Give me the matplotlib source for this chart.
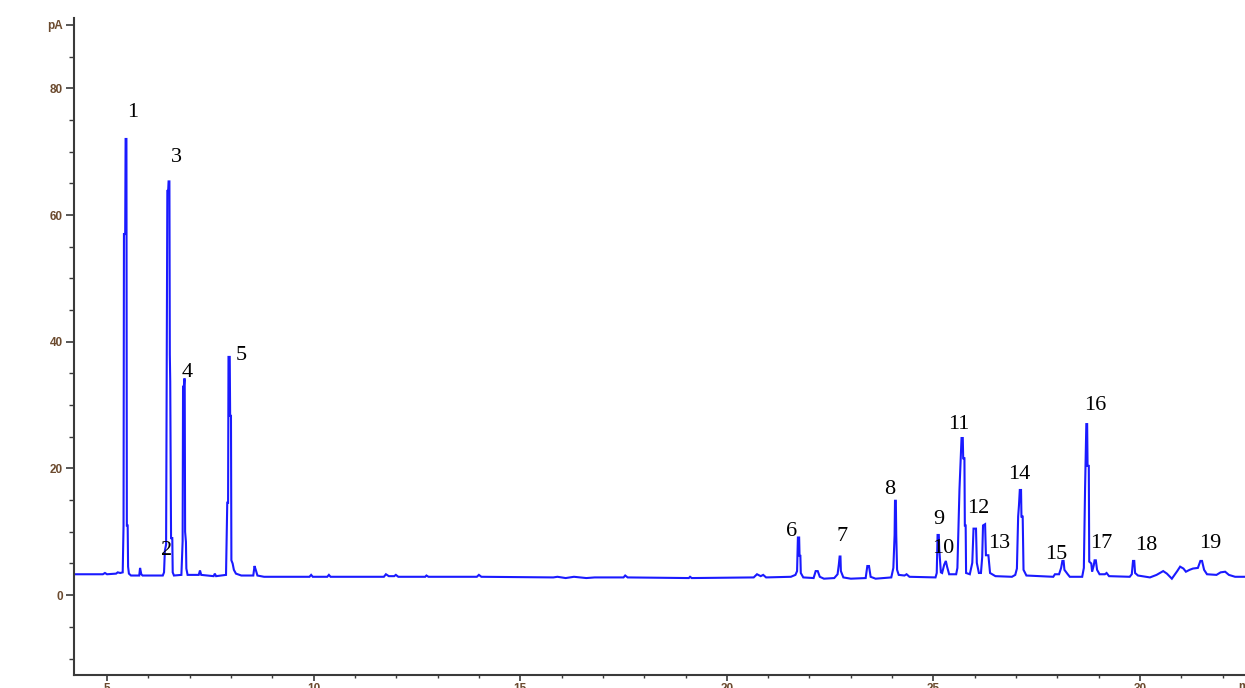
import matplotlib
matplotlib.use("Agg")
import matplotlib.pyplot as plt
from matplotlib.ticker import MultipleLocator, FixedLocator

# --- chromatogram trace (time in min, signal in pA) ---
times = [
    4.20, 4.90, 4.95, 5.00, 5.22, 5.26, 5.32, 5.38, 5.40, 5.41, 5.44, 5.45, 5.47, 5.48, 5.50, 5.51,
    5.53, 5.58, 5.78, 5.80, 5.83, 5.86, 6.35, 6.38, 6.40, 6.43, 6.46, 6.48, 6.49, 6.51, 6.52, 6.53,
    6.55, 6.58, 6.59, 6.62, 6.80, 6.83, 6.84, 6.86, 6.87, 6.88, 6.89, 6.91, 6.92, 6.95, 7.22, 7.25,
    7.28, 7.58, 7.61, 7.64, 7.88, 7.91, 7.93, 7.94, 7.97, 7.98, 8.00, 8.01, 8.04, 8.07, 8.12, 8.25,
    8.54, 8.57, 8.60, 8.64, 8.80, 9.90, 9.94, 9.98, 10.33, 10.37, 10.41, 11.70, 11.75, 11.82, 11.95,
    11.99, 12.05, 12.70, 12.73, 12.78, 13.95, 14.00, 14.06, 15.80, 15.90, 16.10, 16.30, 16.60, 16.80,
    17.50, 17.54, 17.60, 19.08, 19.11, 19.15, 20.65, 20.73, 20.82, 20.88, 20.95, 21.55, 21.66, 21.70,
    21.72, 21.75, 21.76, 21.78, 21.79, 21.85, 22.10, 22.15, 22.20, 22.25, 22.35, 22.60, 22.68, 22.71,
    22.73, 22.75, 22.76, 22.82, 23.00, 23.36, 23.40, 23.44, 23.48, 23.60, 23.98, 24.03, 24.06, 24.07,
    24.09, 24.10, 24.12, 24.16, 24.30, 24.35, 24.42, 25.05, 25.08, 25.10, 25.13, 25.14, 25.18, 25.21,
    25.26, 25.30, 25.33, 25.38, 25.55, 25.58, 25.63, 25.68, 25.71, 25.72, 25.75, 25.76, 25.78, 25.79,
    25.88, 25.94, 25.97, 26.03, 26.05, 26.10, 26.15, 26.18, 26.20, 26.25, 26.27, 26.33, 26.37, 26.50,
    26.90, 26.98, 27.02, 27.05, 27.07, 27.09, 27.12, 27.13, 27.16, 27.18, 27.25, 27.90, 27.94, 28.04,
    28.09, 28.12, 28.15, 28.17, 28.25, 28.30, 28.60, 28.64, 28.67, 28.70, 28.72, 28.73, 28.76, 28.77,
    28.82, 28.84, 28.88, 28.90, 28.93, 28.96, 29.02, 29.15, 29.19, 29.25, 29.75, 29.80, 29.83, 29.86,
    29.88, 29.95, 30.24, 30.40, 30.56, 30.65, 30.77, 30.90, 30.97, 31.05, 31.11, 31.20, 31.28, 31.40,
    31.46, 31.50, 31.55, 31.62, 31.85, 31.95, 32.06, 32.15, 32.30, 32.60,
]
signal = [
    3.3, 3.3, 3.5, 3.3, 3.4, 3.6, 3.5, 3.6, 11.0, 57.0, 57.0, 72.0, 72.0, 11.0, 11.0, 4.5,
    3.4, 3.1, 3.1, 4.3, 3.3, 3.1, 3.1, 3.6, 7.0, 8.0, 63.8, 63.8, 65.3, 65.3, 38.0, 33.7,
    9.0, 9.0, 3.6, 3.1, 3.2, 8.5, 32.9, 32.9, 34.1, 34.1, 10.0, 8.4, 4.2, 3.2, 3.2, 3.9,
    3.2, 3.0, 3.4, 3.0, 3.2, 14.6, 14.6, 37.6, 37.6, 28.3, 28.3, 5.5, 5.0, 4.0, 3.4, 3.1,
    3.1, 4.6, 4.0, 3.1, 2.9, 2.9, 3.2, 2.9, 2.9, 3.2, 2.9, 2.9, 3.3, 3.0, 3.0,
    3.2, 2.9, 2.9, 3.1, 2.9, 2.9, 3.2, 2.9, 2.8, 2.9, 2.7, 2.9, 2.7, 2.8,
    2.8, 3.1, 2.8, 2.7, 2.9, 2.7, 2.8, 3.3, 3.0, 3.2, 2.8, 2.9, 3.2, 3.8,
    9.1, 9.1, 6.2, 6.2, 3.5, 2.8, 2.7, 3.8, 3.8, 2.9, 2.6, 2.7, 3.3, 4.8,
    6.1, 6.1, 3.8, 2.8, 2.6, 2.7, 4.6, 4.6, 2.9, 2.6, 2.8, 4.3, 9.5, 14.9,
    14.9, 9.5, 4.0, 3.2, 3.1, 3.3, 2.9, 2.8, 3.5, 9.5, 9.5, 7.3, 3.6, 3.5,
    4.8, 5.4, 4.5, 3.3, 3.3, 4.3, 16.7, 24.8, 24.8, 21.6, 21.6, 11.0, 11.0, 3.5,
    3.3, 5.1, 10.5, 10.5, 5.1, 3.5, 3.5, 6.0, 11.0, 11.2, 6.3, 6.3, 3.5, 3.0,
    2.9, 3.2, 4.2, 12.4, 14.2, 16.6, 16.6, 12.4, 12.4, 4.0, 3.1, 2.9, 3.3, 3.3,
    4.3, 5.4, 5.4, 4.0, 3.3, 2.9, 2.9, 4.3, 17.0, 27.0, 27.0, 20.4, 20.4, 5.3,
    5.0, 3.7, 4.7, 5.5, 5.5, 4.0, 3.3, 3.3, 3.5, 3.0, 2.9, 3.3, 5.4, 5.4,
    3.5, 3.1, 2.8, 3.2, 3.8, 3.4, 2.6, 3.8, 4.5, 4.2, 3.7, 4.0, 4.2, 4.3,
    5.4, 5.4, 4.0, 3.3, 3.2, 3.6, 3.7, 3.2, 2.9, 2.9,
]

# --- peak numbers and where they sit ---
peak_labels = [str(i) for i in range(1, 20)]
label_t = [5.61, 6.43, 6.67, 6.93, 8.24, 21.57, 22.80, 23.95, 25.12, 25.24,
           25.62, 26.09, 26.59, 27.08, 27.98, 28.91, 29.05, 30.14, 31.71]
label_y = [76.2, 7.1, 69.0, 35.1, 37.8, 10.0, 9.2, 16.7, 12.0, 7.4,
           26.9, 13.7, 8.1, 19.0, 6.4, 29.9, 8.2, 7.9, 8.2]

x_major = [5, 10, 15, 20, 25, 30]
y_major = [0, 20, 40, 60, 80, 90]
y_ticklabels = ["0", "20", "40", "60", "80", "pA"]

fig = plt.figure(figsize=(12.45, 6.88), dpi=100)
ax = fig.add_axes([0.0594, 0.0189, 0.9406, 0.955])

ax.plot(times, signal, color="#1a1aff", lw=1.5, solid_joinstyle="miter")

for txt, t, y in zip(peak_labels, label_t, label_y):
    ax.text(t, y, txt, ha="center", va="center", fontsize=16,
            family="Liberation Serif", color="black")

ax.set_xlim(4.2, 32.54)
ax.set_ylim(-12.6, 91.1)

for s in ["top", "right"]:
    ax.spines[s].set_visible(False)
for s in ["left", "bottom"]:
    ax.spines[s].set_color("#3a3a3a")
    ax.spines[s].set_linewidth(1.5)

ax.xaxis.set_major_locator(FixedLocator(x_major))
ax.xaxis.set_minor_locator(MultipleLocator(1))
ax.set_xticklabels([str(v) for v in x_major])
ax.yaxis.set_major_locator(FixedLocator(y_major))
ax.yaxis.set_minor_locator(MultipleLocator(5))
ax.set_yticklabels(y_ticklabels)

tick_color = "#6b4a2e"
ax.tick_params(axis="y", which="major", length=6, width=1.2, color="#3a3a3a",
               pad=2, labelsize=8.5, labelcolor=tick_color)
ax.tick_params(axis="y", which="minor", length=3.5, width=1.0, color="#3a3a3a")
ax.tick_params(axis="x", which="major", length=4, width=1.2, color="#3a3a3a",
               pad=1.5, labelsize=8.5, labelcolor=tick_color)
ax.tick_params(axis="x", which="minor", length=2.5, width=1.0, color="#3a3a3a")
for lab in ax.get_xticklabels() + ax.get_yticklabels():
    lab.set_fontweight("bold")
    lab.set_family("Liberation Sans")

# axis unit label at the right end, cut off by the picture edge as in the source
ax.text(32.37, -13.6, "min", ha="left", va="top",
        fontsize=8.5, fontweight="bold", family="Liberation Sans",
        color=tick_color, clip_on=False)

fig.savefig("out.png", dpi=100)
